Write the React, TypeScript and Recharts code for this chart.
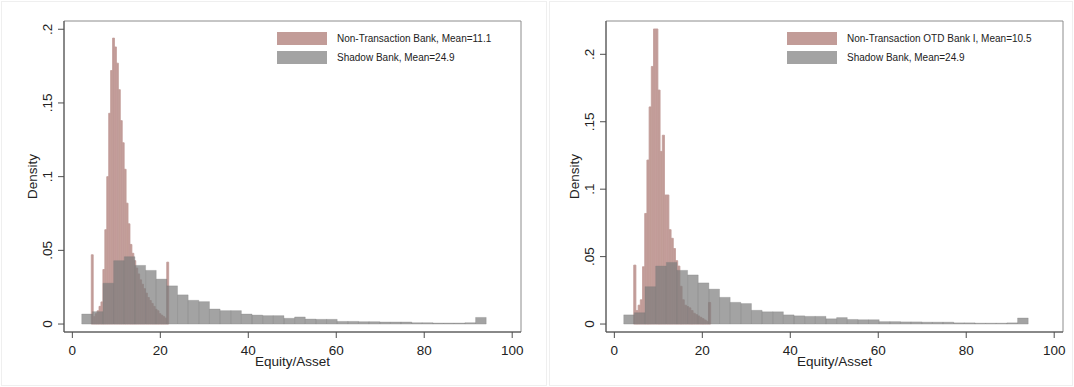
import React from 'react'
import { ComposedChart, XAxis, YAxis, ReferenceArea } from 'recharts'

// x axis ticks and y axis ticks (same on both panels)
const X_TICKS = [0, 20, 40, 60, 80, 100]
const Y_TICKS = [0, 0.05, 0.1, 0.15, 0.2]

// shadow bank histogram (same on both panels)
const SHADOW_START = 2.13
const SHADOW_BIN = 2.42
const SHADOW_DENSITY = [
  0.0068, 0.0084, 0.0277, 0.043, 0.0457, 0.0398, 0.0364, 0.0305, 0.0259, 0.0198,
  0.0161, 0.0152, 0.0102, 0.0091, 0.0091, 0.0068, 0.0061, 0.0057, 0.0057, 0.0039,
  0.0048, 0.0034, 0.0032, 0.0032, 0.0018, 0.0018, 0.0016, 0.0016, 0.0014, 0.0014,
  0.0014, 0.0009, 0.0009, 0.0007, 0.0007, 0.0007, 0.0009, 0.0045,
]

// non-transaction bank (left panel)
const NTB_START = 4.3
const NTB_BIN = 0.44
const NTB_DENSITY = [
  0.047, 0.005, 0.007, 0.009, 0.012, 0.015, 0.037, 0.064, 0.1, 0.143,
  0.172, 0.194, 0.188, 0.177, 0.159, 0.138, 0.123, 0.105, 0.082, 0.068,
  0.054, 0.048, 0.043, 0.038, 0.034, 0.03, 0.027, 0.024, 0.021, 0.018,
  0.016, 0.014, 0.012, 0.01, 0.009, 0.007, 0.006, 0.005, 0.004, 0.042,
]

// non-transaction OTD bank I (right panel)
const OTD_START = 4.4
const OTD_BIN = 0.5
const OTD_DENSITY = [
  0.0437, 0.01, 0.014, 0.018, 0.0425, 0.082, 0.1216, 0.161, 0.191, 0.2188,
  0.2188, 0.1735, 0.128, 0.14, 0.0957, 0.0957, 0.07, 0.0636, 0.056, 0.047,
  0.043, 0.028, 0.018, 0.014, 0.013, 0.012, 0.01, 0.008, 0.007, 0.006,
  0.005, 0.004, 0.003, 0.002, 0.016,
]

const LEFT_LEGEND = ['Non-Transaction Bank, Mean=11.1', 'Shadow Bank, Mean=24.9']
const RIGHT_LEGEND = ['Non-Transaction OTD Bank I, Mean=10.5', 'Shadow Bank, Mean=24.9']

const PINK = '#c29c98'
const GRAY = '#7c7c7c'
const TEXT = '#222'
const AXIS = '#4d4d4d'
const FONT = '"Liberation Sans", Arial, Helvetica, sans-serif'

const X_DOMAIN: [number, number] = [-1.9, 102]

function toBins(start: number, width: number, values: number[]) {
  return values.map((v, i) => ({ x1: start + i * width, x2: start + (i + 1) * width, y: v }))
}

function fmtY(v: number) {
  return v === 0 ? '0' : String(v).replace(/^0/, '')
}

const YTick = (props: any) => {
  const { x, y, payload } = props
  const cx = x - 8
  return (
    <text
      x={cx}
      y={y}
      transform={`rotate(-90 ${cx} ${y})`}
      textAnchor="middle"
      dominantBaseline="central"
      fontSize={13.5}
      fill={TEXT}
    >
      {fmtY(payload.value)}
    </text>
  )
}

type PanelProps = {
  width: number
  marginRight: number
  yDomain: [number, number]
  pink: { x1: number; x2: number; y: number }[]
}

function Panel({ width, marginRight, yDomain, pink }: PanelProps) {
  const shadow = toBins(SHADOW_START, SHADOW_BIN, SHADOW_DENSITY)
  return (
    <ComposedChart
      width={width}
      height={387}
      margin={{ top: 21, right: marginRight, bottom: 15, left: 0 }}
      data={shadow}
    >
      <XAxis
        type="number"
        dataKey="x1"
        domain={X_DOMAIN}
        ticks={X_TICKS}
        allowDataOverflow
        height={40}
        tickSize={6}
        tickMargin={7}
        tick={{ fontSize: 13.5, fill: TEXT }}
        axisLine={{ stroke: AXIS }}
        tickLine={{ stroke: AXIS }}
        label={{ value: 'Equity/Asset', position: 'insideBottom', offset: 6, fontSize: 13.5, fill: TEXT }}
      />
      <YAxis
        type="number"
        domain={yDomain}
        ticks={Y_TICKS}
        allowDataOverflow
        width={64}
        tickSize={6}
        tickMargin={2}
        tick={YTick}
        axisLine={{ stroke: AXIS }}
        tickLine={{ stroke: AXIS }}
        label={{ value: 'Density', angle: -90, position: 'center', fontSize: 13.5, fill: TEXT }}
      />
      <ReferenceArea
        x1={X_DOMAIN[0]}
        x2={X_DOMAIN[1]}
        y1={yDomain[0]}
        y2={yDomain[1]}
        fill="none"
        stroke="#8c8c8c"
        ifOverflow="visible"
      />
      {pink.map((b, i) => (
        <ReferenceArea
          key={'p' + i}
          x1={b.x1}
          x2={b.x2}
          y1={0}
          y2={b.y}
          fill={PINK}
          fillOpacity={1}
          stroke={PINK}
          strokeWidth={0.8}
          ifOverflow="visible"
        />
      ))}
      {shadow.map((b, i) => (
        <ReferenceArea
          key={'s' + i}
          x1={b.x1}
          x2={b.x2}
          y1={0}
          y2={b.y}
          fill={GRAY}
          fillOpacity={0.7}
          stroke={GRAY}
          strokeOpacity={0.45}
          strokeWidth={0.6}
          ifOverflow="visible"
        />
      ))}
    </ComposedChart>
  )
}

function LegendBox({ left, top, labels }: { left: number; top: number; labels: string[] }) {
  const colors = [PINK, '#a3a3a3']
  return (
    <div style={{ position: 'absolute', left, top }}>
      {labels.map((l, i) => (
        <div key={l} style={{ display: 'flex', alignItems: 'center', height: 13, marginBottom: 6 }}>
          <div style={{ width: 50, height: 13, background: colors[i] }} />
          <span style={{ marginLeft: 10, fontSize: 10, color: TEXT, whiteSpace: 'nowrap' }}>{l}</span>
        </div>
      ))}
    </div>
  )
}

export default function App() {
  return (
    <div
      style={{
        position: 'absolute',
        left: 0,
        top: 0,
        width: 1074,
        height: 387,
        background: '#fff',
        fontFamily: FONT,
        overflow: 'hidden',
      }}
    >
      <div style={{ position: 'absolute', left: 1, top: 1, width: 544, height: 383, border: '1px solid #efefef' }} />
      <div style={{ position: 'absolute', left: 549, top: 1, width: 522, height: 383, border: '1px solid #efefef' }} />
      <div style={{ position: 'absolute', left: 0, top: 0 }}>
        <Panel width={546} marginRight={25} yDomain={[-0.0054, 0.2056]} pink={toBins(NTB_START, NTB_BIN, NTB_DENSITY)} />
      </div>
      <div style={{ position: 'absolute', left: 542, top: 0 }}>
        <Panel width={532} marginRight={11} yDomain={[-0.0059, 0.2247]} pink={toBins(OTD_START, OTD_BIN, OTD_DENSITY)} />
      </div>
      <LegendBox left={277} top={31.5} labels={LEFT_LEGEND} />
      <LegendBox left={787} top={31.5} labels={RIGHT_LEGEND} />
    </div>
  )
}
